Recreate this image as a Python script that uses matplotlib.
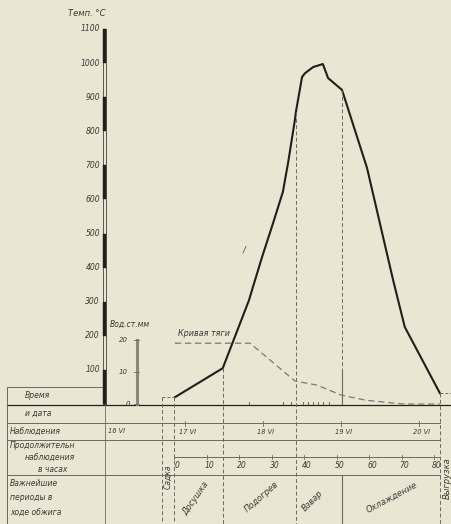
import numpy as np
import matplotlib
matplotlib.use("Agg")
import matplotlib.pyplot as plt
from matplotlib import transforms
from matplotlib.patches import Rectangle

# --- firing curve (hours from start, deg C) ---
hours = [0.3, 15.0, 23.1, 24.0, 27.1, 30.5, 33.5, 35.1, 37.2, 37.5, 39.4, 40.3,
         42.8, 45.8, 47.4, 51.7, 59.4, 67.4, 71.0, 81.8]
temp = [20, 105, 305, 334, 431, 531, 622, 707, 833, 856, 959, 970,
        988, 997, 956, 921, 692, 364, 226, 32]

# --- draught curve (mm water column) ---
draft_h = [0.3, 23.4, 37.2, 44.0, 51.4, 58.9, 70.5, 81.8]
draft_mm = [19, 19, 7.2, 5.9, 2.8, 1.2, 0, 0]

temp_ticks = [100, 200, 300, 400, 500, 600, 700, 800, 900, 1000, 1100]
draft_ticks = [0, 10, 20]
hour_ticks = [0, 10, 20, 30, 40, 50, 60, 70, 80]
obs_marks = [23.1, 33.5, 36.0, 39.7, 41.2, 42.8, 44.3, 45.8, 47.7]
date_h = [3.4, 27.4, 51.4, 75.4]
date_labels = ["17 VI", "18 VI", "19 VI", "20 VI"]
phase_edges = [-3.7, 0.0, 15.0, 37.5, 51.6, 81.8]
phase_names = ["Досушка", "Подогрев", "Взвар", "Охлаждение"]
phase_rot = [55, 41, 45, 28]
phase_xy = [(196, 498), (262, 497), (313, 501), (392, 498)]
row_text = [("Время", 25, 396), ("и дата", 25, 413), ("Наблюдения", 10, 431),
            ("Продолжительн", 10, 446), ("наблюдения", 25, 458), ("в часах", 38, 469),
            ("Важнейшие", 10, 484), ("периоды в", 10, 498), ("ходе обжига", 10, 513)]

PAPER = "#ebe5d4"
INK = "#1f1f1c"
GRID = "#6d6a62"
TXT = "#3b3a36"
FONT = dict(family="DejaVu Sans", style="italic", color=TXT)

W, H = 452, 524
X0, PXH = 174, 3.25      # pixel of hour 0, px per hour
Y0, PXT = 404, 0.341     # pixel of 0 deg, px per deg
PXMM = 3.2               # px per mm water column

fig = plt.figure(figsize=(W / 100, H / 100), dpi=100)
fig.patch.set_facecolor(PAPER)

tab = fig.add_axes([0, 0, 1, 1])
tab.set_xlim(0, W)
tab.set_ylim(H, 0)
tab.axis("off")

ax = fig.add_axes([0, 0, 1, 1])
ax.set_xlim(-X0 / PXH, (W - X0) / PXH)
ax.set_ylim(-(H - Y0) / PXT, Y0 / PXT)
ax.axis("off")
ax.patch.set_alpha(0)

axd = fig.add_axes([0, 0, 1, 1])
axd.set_xlim(ax.get_xlim())
axd.set_ylim(-(H - Y0) / PXMM, Y0 / PXMM)
axd.axis("off")
axd.patch.set_alpha(0)

px_t = transforms.blended_transform_factory(tab.transData, ax.transData)
h_px = transforms.blended_transform_factory(ax.transData, tab.transData)
px_d = transforms.blended_transform_factory(tab.transData, axd.transData)
ybot = ax.get_ylim()[0]

# temperature scale bar: alternating black / white segments
ax.add_patch(Rectangle((103.5, 0), 3, 1100, transform=px_t, fill=False,
                       edgecolor=INK, lw=0.5))
for t0 in range(0, 1100, 200):
    ax.add_patch(Rectangle((103.5, t0), 3, 100, transform=px_t,
                           facecolor=INK, edgecolor=INK, lw=0.3))
for t in temp_ticks:
    ax.text(100, t, str(t), transform=px_t, ha="right", va="center", fontsize=5.5, **FONT)
ax.text(87, 1145, "Темп. °C", transform=px_t, ha="center", va="center", fontsize=6, **FONT)

# draught scale
axd.plot([137, 137], [0, 20], transform=px_d, color="#8a877e", lw=2.2)
for d in draft_ticks:
    axd.plot([134, 139], [d, d], transform=px_d, color=GRID, lw=0.6)
    axd.text(128 if d else 130, d, str(d), transform=px_d, ha="right", va="center",
             fontsize=5, **FONT)
axd.text(110, 25, "Вод.ст.мм", transform=px_d, ha="left", va="center", fontsize=5.5, **FONT)

# main firing curve
ax.plot(hours, temp, color=INK, lw=1.5, solid_joinstyle="round")
ax.plot([phase_edges[0], hours[0]], [temp[0], temp[0]], color=GRID, lw=0.7, dashes=(3, 2))
ax.plot([hours[-1], ax.get_xlim()[1]], [temp[-1], temp[-1]], color=GRID, lw=0.7, dashes=(3, 2))
ax.text(243, 445, "/", transform=px_t, fontsize=6, **FONT)

# draught curve
axd.plot(draft_h, draft_mm, color="#7c7970", lw=0.9, dashes=(5, 3))
axd.text(178, 21.3, "Кривая тяги", fontsize=5.8, transform=px_d, **FONT)

# phase boundaries
for h in phase_edges:
    top = temp[0] if h <= 0 else np.interp(h, hours, temp)
    if h == 51.6:
        # dashed down to the draught curve, solid below it, gap through the time rows
        ax.plot([h, h], [top, 100], color=GRID, lw=0.7, dashes=(4, 2.5))
        ax.plot([h, h], [100, 0], color=GRID, lw=0.8)
        ax.plot([h, h], [475, H], transform=h_px, color=GRID, lw=0.8)
    else:
        ax.plot([h, h], [top, ybot], color=GRID, lw=0.7, dashes=(4, 2.5))

# observation marks on the time axis
for h in obs_marks:
    ax.plot([h, h], [0, 6], color=GRID, lw=0.7)

# table grid
tab.plot([7, 105], [387, 387], color=GRID, lw=0.7)
tab.plot([7, W], [404.5, 404.5], color=INK, lw=0.9)
for y in (423, 440, 475):
    tab.plot([7, 440], [y, y], color=GRID, lw=0.7)
tab.plot([X0, 440], [457, 457], color=GRID, lw=0.7)
tab.plot([7, 7], [387, H], color=GRID, lw=0.7)
tab.plot([105, 105], [404, H], color=GRID, lw=0.6)

for txt, x, y in row_text:
    tab.text(x, y, txt, ha="left", va="center", fontsize=5.5, **FONT)

tab.text(108, 431, "16 VI", ha="left", va="center", fontsize=4.8, **FONT)
lbl = transforms.offset_copy(h_px, fig, x=3, units="dots")
for h, s in zip(date_h, date_labels):
    ax.plot([h, h], [421, 425.5], transform=h_px, color=GRID, lw=0.6)
    ax.text(h, 432, s, transform=lbl, ha="center", va="center", fontsize=4.8, **FONT)
for h in hour_ticks:
    ax.plot([h, h], [455, 459], transform=h_px, color=GRID, lw=0.6)
    ax.text(h, 466, str(h), transform=lbl, ha="center", va="center", fontsize=5.5, **FONT)

for name, rot, (x, y) in zip(phase_names, phase_rot, phase_xy):
    tab.text(x, y, name, ha="center", va="center", rotation=rot,
             rotation_mode="anchor", fontsize=6, **FONT)
tab.text(168, 477, "Садка", ha="center", va="center", rotation=90, fontsize=5.5, **FONT)
tab.text(447, 478, "Выгрузка", ha="center", va="center", rotation=90, fontsize=6, **FONT)

fig.savefig("out.png", dpi=100, facecolor=PAPER)
